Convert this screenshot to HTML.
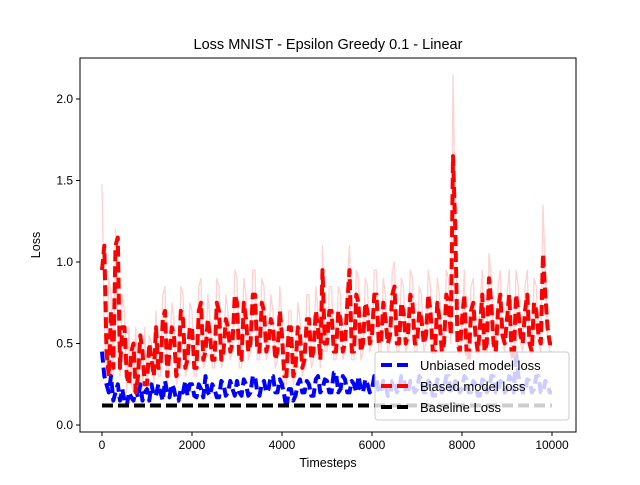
<!DOCTYPE html>
<html><head><meta charset="utf-8"><style>
body{margin:0;background:#fff;}
svg{font-family:"Liberation Sans","DejaVu Sans",sans-serif;}
</style></head><body>
<svg id="chart" width="640" height="480"></svg>
<script>
const biasedLoss=[0.95,1.1,0.45,0.3,0.7,0.35,1.1,1.15,0.35,0.6,0.6,0.3,0.25,0.45,0.5,0.2,0.3,0.55,0.45,0.25,
0.25,0.5,0.4,0.3,0.6,0.35,0.35,0.65,0.7,0.3,0.45,0.6,0.55,0.3,0.35,0.7,0.65,0.35,0.4,0.6,
0.6,0.35,0.35,0.7,0.75,0.4,0.45,0.65,0.55,0.4,0.4,0.75,0.7,0.4,0.45,0.65,0.6,0.45,0.5,0.8,
0.75,0.4,0.4,0.75,0.65,0.45,0.5,0.8,0.8,0.45,0.45,0.75,0.7,0.45,0.5,0.65,0.6,0.4,0.45,0.7,
0.55,0.3,0.3,0.6,0.6,0.3,0.35,0.6,0.55,0.35,0.4,0.65,0.65,0.4,0.45,0.7,0.6,0.4,0.95,0.5,
0.5,0.7,0.7,0.45,0.45,0.7,0.65,0.45,0.5,0.75,0.95,0.45,0.45,0.8,0.75,0.45,0.5,0.75,0.7,0.5,
0.55,0.8,0.8,0.5,0.5,0.75,0.65,0.5,0.55,0.8,0.85,0.5,0.5,0.75,0.7,0.5,0.55,0.8,0.75,0.5,
0.5,0.7,0.65,0.5,0.55,0.8,0.7,0.45,0.45,0.75,0.65,0.45,0.5,0.8,0.75,0.55,1.65,1.2,0.5,0.45,
0.65,0.8,0.45,0.4,0.7,0.75,0.55,0.45,0.6,0.8,0.45,0.5,0.9,0.75,0.5,0.45,0.7,0.8,0.55,0.5,
0.65,0.8,0.45,0.4,0.8,0.7,0.55,0.5,0.7,0.8,0.5,0.45,0.75,0.7,0.55,0.5,1.05,0.8,0.6,0.5,0.5];
const rawBiasedLoss=[1.48,0.6,0.35,0.9,0.8,0.3,1.2,0.6,0.3,0.8,0.7,0.2,0.6,0.25,0.2,0.6,0.25,0.55,0.2,0.6,
0.2,0.55,0.5,0.25,0.7,0.3,0.3,0.8,0.85,0.25,0.4,0.75,0.65,0.25,0.3,0.85,0.8,0.3,0.35,0.75,
0.7,0.3,0.3,0.85,0.9,0.35,0.4,0.8,0.65,0.35,0.35,0.9,0.85,0.35,0.4,0.8,0.7,0.4,0.45,0.95,
0.9,0.35,0.35,0.9,0.8,0.4,0.45,0.95,0.95,0.4,0.4,0.9,0.85,0.4,0.45,0.8,0.7,0.35,0.4,0.85,
0.65,0.25,0.25,0.7,0.7,0.25,0.3,0.75,0.65,0.3,0.35,0.8,0.8,0.35,0.4,0.85,0.7,0.35,1.1,0.45,
0.45,0.85,0.85,0.4,0.4,0.85,0.8,0.4,0.45,0.9,1.1,0.4,0.4,0.95,0.9,0.4,0.45,0.9,0.85,0.45,
0.5,0.95,0.95,0.45,0.45,0.9,0.8,0.45,0.5,0.95,1.0,0.45,0.45,0.9,0.85,0.45,0.5,0.95,0.9,0.45,
0.45,0.85,0.8,0.45,0.5,0.95,0.85,0.4,0.4,0.9,0.8,0.4,0.45,0.95,0.9,0.5,2.15,1.3,0.45,0.4,
0.6,0.95,0.4,0.35,0.85,0.9,0.5,0.4,0.75,0.95,0.4,0.45,1.05,0.9,0.45,0.4,0.85,0.95,0.5,0.45,
0.8,0.95,0.4,0.35,0.95,0.85,0.5,0.45,0.85,0.95,0.45,0.4,0.9,0.85,0.5,0.45,1.35,0.95,0.55,0.45,0.45];
const unbiasedLoss=[0.45,0.3,0.25,0.2,0.3,0.15,0.2,0.25,0.15,0.22,0.15,0.12,0.2,0.17,0.15,0.22,0.17,0.25,0.15,0.2,
0.22,0.15,0.25,0.18,0.18,0.25,0.2,0.15,0.27,0.2,0.17,0.25,0.22,0.15,0.15,0.22,0.2,0.27,0.18,0.25,
0.25,0.18,0.17,0.25,0.22,0.17,0.3,0.2,0.18,0.25,0.22,0.17,0.17,0.27,0.25,0.18,0.2,0.27,0.22,0.18,
0.27,0.2,0.18,0.28,0.25,0.18,0.2,0.3,0.3,0.2,0.18,0.25,0.27,0.2,0.22,0.3,0.3,0.2,0.2,0.28,
0.25,0.18,0.1,0.22,0.22,0.15,0.18,0.25,0.28,0.2,0.2,0.27,0.25,0.18,0.18,0.28,0.3,0.2,0.22,0.28,
0.27,0.2,0.2,0.32,0.32,0.2,0.22,0.3,0.28,0.2,0.2,0.27,0.25,0.2,0.3,0.22,0.2,0.28,0.25,0.2,
0.22,0.3,0.28,0.2,0.2,0.27,0.25,0.18,0.18,0.27,0.27,0.2,0.22,0.3,0.3,0.2,0.2,0.27,0.25,0.2,
0.22,0.3,0.28,0.2,0.2,0.27,0.25,0.18,0.18,0.28,0.27,0.2,0.22,0.3,0.3,0.2,0.2,0.27,0.25,0.2,
0.22,0.3,0.28,0.2,0.2,0.27,0.25,0.18,0.18,0.28,0.27,0.2,0.22,0.3,0.3,0.2,0.2,0.27,0.25,0.2,
0.22,0.3,0.28,0.2,0.45,0.3,0.25,0.2,0.2,0.28,0.27,0.2,0.22,0.3,0.3,0.2,0.2,0.27,0.25,0.2,0.2];
const baselineLoss=0.12;
const xTicks=[0,2000,4000,6000,8000,10000];
const yTicks=[0.0,0.5,1.0,1.5,2.0];
const stepSize=50;

const NS="http://www.w3.org/2000/svg";
const svg=document.getElementById('chart');
const L=80,R=576,T=58,B=432;
const xs=v=>102+v*(552-102)/10000;
const ys=v=>425-v*(425-99)/2.0;
function mk(tag,attrs,parent){const e=document.createElementNS(NS,tag);for(const k in attrs)e.setAttribute(k,attrs[k]);(parent||svg).appendChild(e);return e;}
function line(vals,color,w,dash,op,name){
  const d=vals.map((v,i)=>(i?'L':'M')+xs(i*stepSize).toFixed(1)+' '+ys(v).toFixed(1)).join(' ');
  const p=mk('path',{d:d,fill:'none',stroke:color,'stroke-width':w,'stroke-opacity':op,'stroke-dasharray':dash||'none','stroke-linejoin':'round'});
  
  
}
mk('rect',{x:L,y:T,width:R-L,height:B-T,fill:'#fff'});
line(rawBiasedLoss,'#ff0000',1.3,null,0.18,'raw-biased-loss-line');
line(unbiasedLoss,'#0000ff',4,'11 5',1,'unbiased-loss-line');
line(biasedLoss,'#ff0000',4,'11 5',1,'biased-loss-line');
const bl=mk('line',{x1:xs(0),x2:xs(10000),y1:ys(baselineLoss),y2:ys(baselineLoss),stroke:'#000','stroke-width':4,'stroke-dasharray':'11 5'});


mk('rect',{x:L,y:T,width:R-L,height:B-T,fill:'none',stroke:'#000','stroke-width':1});
xTicks.forEach(t=>{const x=xs(t);mk('line',{x1:x,x2:x,y1:B,y2:B+4,stroke:'#000'});
  const tx=mk('text',{x:x,y:B+17,'text-anchor':'middle','font-size':12});tx.textContent=t;
  });
yTicks.forEach(t=>{const y=ys(t);mk('line',{x1:L-4,x2:L,y1:y,y2:y,stroke:'#000'});
  const tx=mk('text',{x:L-7,y:y+4,'text-anchor':'end','font-size':12});tx.textContent=t.toFixed(1);
  });
</script>
<svg width="640" height="480" style="position:absolute;left:0;top:0">
<text x="328" y="49" text-anchor="middle" font-size="14.5">Loss MNIST - Epsilon Greedy 0.1 - Linear</text>
<text x="328" y="467" text-anchor="middle" font-size="12.5">Timesteps</text>
<text x="40" y="245" text-anchor="middle" font-size="12.5" transform="rotate(-90 40 245)">Loss</text>
<g>
<rect x="375" y="352" width="194" height="68" rx="3" fill="#fff" fill-opacity="0.8" stroke="#ccc"/>
<line x1="381" x2="409" y1="365" y2="365" stroke="#0000ff" stroke-width="4" stroke-dasharray="11 5"/>
<text x="420" y="370" font-size="13">Unbiased model loss</text>
<line x1="381" x2="409" y1="386" y2="386" stroke="#ff0000" stroke-width="4" stroke-dasharray="11 5"/>
<text x="420" y="391" font-size="13">Biased model loss</text>
<line x1="381" x2="409" y1="407" y2="407" stroke="#000" stroke-width="4" stroke-dasharray="11 5"/>
<text x="420" y="412" font-size="13">Baseline Loss</text>
</g>
</svg>
</body></html>
